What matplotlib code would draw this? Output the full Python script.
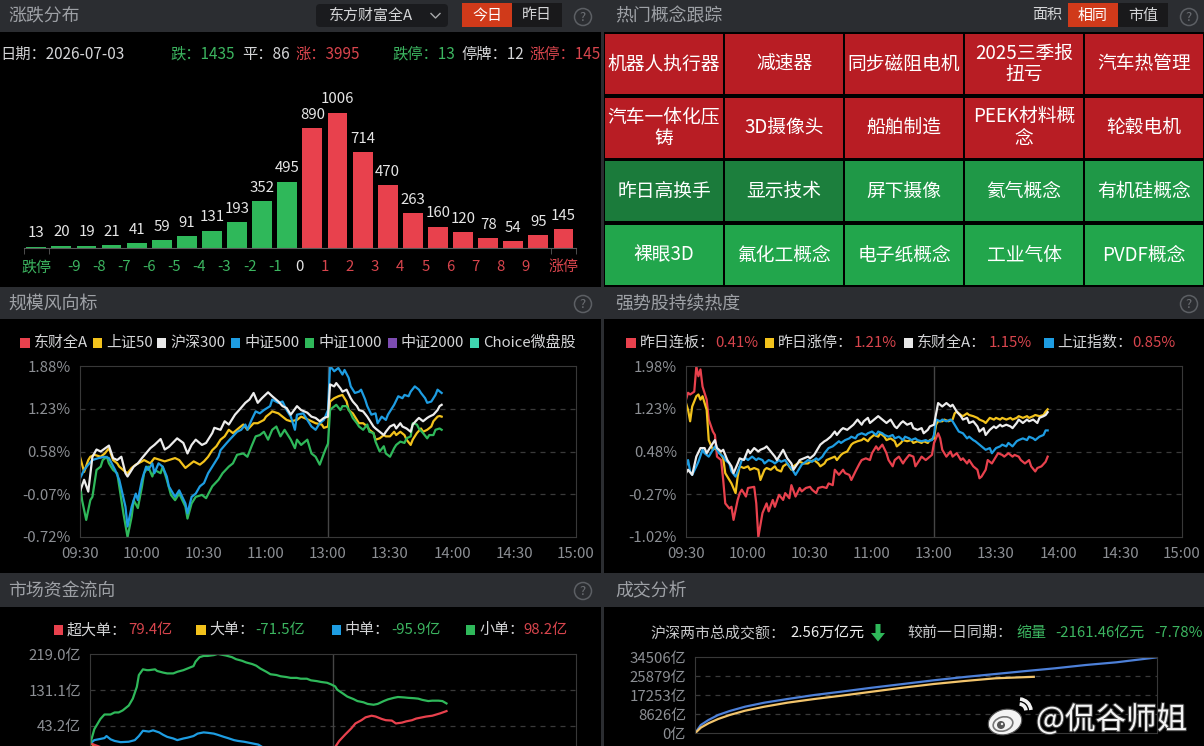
"""Market dashboard: limit-up/down distribution, hot concepts, index lines,
money flow and turnover, drawn on a 1204x746 canvas."""

import numpy as np
import matplotlib
matplotlib.use("Agg")
import matplotlib.pyplot as plt
from matplotlib.patches import Rectangle, FancyBboxPatch, Circle, Ellipse, Arc, Polygon
import matplotlib.patheffects as pe

plt.rcParams["font.family"] = ["Noto Sans CJK SC", "DejaVu Sans"]

# ---------------------------------------------------------------- data
DATE = "2026-07-03"
N_DOWN, N_FLAT, N_UP = 1435, 86, 3995
N_LIMIT_DOWN, N_SUSPEND, N_LIMIT_UP = 13, 12, 145

# distribution bars: 跌停, -10..-9, ..., 0..1, ..., 9..10, 涨停
DIST_COUNTS = [13, 20, 19, 21, 41, 59, 91, 131, 193, 352, 495,
               890, 1006, 714, 470, 263, 160, 120, 78, 54, 95, 145]
DIST_LABELS = ["跌停", "-9", "-8", "-7", "-6", "-5", "-4", "-3", "-2", "-1",
               "0", "1", "2", "3", "4", "5", "6", "7", "8", "9", "涨停"]

CONCEPTS = [["机器人执行器", "减速器", "同步磁阻电机", "2025三季报\n扭亏", "汽车热管理"],
            ["汽车一体化压\n铸", "3D摄像头", "船舶制造", "PEEK材料概\n念", "轮毂电机"],
            ["昨日高换手", "显示技术", "屏下摄像", "氦气概念", "有机硅概念"],
            ["裸眼3D", "氟化工概念", "电子纸概念", "工业气体", "PVDF概念"]]

TIME_TICKS = ["09:30", "10:00", "10:30", "11:00", "13:00", "13:30", "14:00", "14:30", "15:00"]

# 规模风向标 (minute index, % change)
HS300 = [(0, -0.03), (2, 0.15), (4, -0.03), (6, 0.50), (8, 0.61), (10, 0.58), (14, 0.67), (16, 0.48),
         (18, 0.45), (20, 0.50), (22, 0.25), (23, 0.20), (26, 0.35), (28, 0.40), (30, 0.48), (34, 0.63),
         (36, 0.68), (39, 0.77), (41, 0.61), (43, 0.65), (47, 0.78), (50, 0.71), (52, 0.55), (54, 0.68),
         (56, 0.76), (59, 0.68), (61, 0.71), (64, 0.86), (65, 0.94), (68, 0.91), (70, 1.04), (72, 0.99),
         (75, 1.14), (77, 1.21), (80, 1.32), (82, 1.37), (84, 1.47), (86, 1.32), (88, 1.39), (91, 1.48),
         (93, 1.42), (96, 1.34), (98, 1.27), (100, 1.24), (102, 1.14), (105, 1.27), (107, 1.21), (110, 1.17),
         (112, 1.11), (114, 1.09), (116, 1.04), (118, 1.09), (120, 1.11),
         (121, 1.60), (123, 1.57), (124, 1.62), (126, 1.54), (127, 1.49), (129, 1.52), (131, 1.39), (132, 1.34),
         (134, 1.27), (135, 1.21), (137, 1.19), (139, 1.11), (140, 1.06), (142, 0.96), (143, 0.93), (145, 0.88),
         (147, 0.83), (148, 0.88), (150, 0.96), (152, 0.99), (153, 0.93), (155, 1.01), (156, 0.96), (158, 0.93),
         (160, 0.88), (161, 0.99), (163, 1.06), (164, 1.09), (166, 1.04), (168, 1.09), (169, 1.11), (171, 1.14),
         (173, 1.21), (174, 1.27), (175, 1.29)]
CSI500 = [(0, 0.17), (2, 0.30), (4, 0.38), (6, 0.45), (9, 0.48), (12, 0.50), (14, 0.48), (17, 0.30),
          (19, 0.15), (22, -0.26), (23, -0.56), (25, -0.26), (27, -0.06), (28, -0.16), (30, 0.15), (32, 0.35),
          (33, 0.30), (35, 0.40), (36, 0.25), (38, 0.40), (40, 0.35), (42, 0.20), (43, 0.05), (46, -0.11),
          (48, -0.01), (51, -0.21), (52, -0.36), (54, -0.11), (56, -0.06), (58, 0.05), (60, 0.10), (62, 0.25),
          (64, 0.35), (65, 0.40), (67, 0.50), (68, 0.60), (71, 0.71), (73, 0.78), (76, 0.88), (78, 0.91),
          (80, 0.99), (81, 0.91), (83, 1.06), (85, 1.19), (87, 1.16), (89, 1.21), (92, 1.27), (93, 1.37),
          (96, 1.32), (98, 1.34), (100, 1.21), (102, 1.11), (104, 0.91), (105, 1.14), (108, 1.16), (110, 1.06),
          (112, 0.96), (114, 0.91), (116, 1.01), (118, 1.06), (120, 1.21),
          (121, 1.88), (123, 1.80), (125, 1.85), (127, 1.75), (128, 1.82), (130, 1.70), (131, 1.57), (133, 1.47),
          (135, 1.49), (136, 1.52), (138, 1.37), (139, 1.27), (141, 1.14), (143, 1.16), (144, 1.01), (146, 1.11),
          (148, 1.06), (149, 1.14), (151, 1.24), (152, 1.29), (154, 1.42), (156, 1.39), (157, 1.44), (159, 1.42),
          (160, 1.49), (162, 1.57), (164, 1.52), (165, 1.47), (167, 1.39), (168, 1.32), (170, 1.34), (172, 1.44),
          (173, 1.52), (175, 1.47)]
SSE50 = [(0, 0.50), (2, 0.27), (4, 0.45), (5, 0.50), (7, 0.53), (10, 0.50), (12, 0.55), (14, 0.63),
         (16, 0.45), (18, 0.40), (19, 0.35), (22, 0.27), (23, 0.25), (25, 0.33), (27, 0.38), (30, 0.43),
         (31, 0.45), (34, 0.40), (36, 0.48), (39, 0.45), (41, 0.43), (43, 0.45), (46, 0.48), (48, 0.45),
         (51, 0.33), (53, 0.38), (55, 0.43), (58, 0.38), (60, 0.43), (62, 0.50), (64, 0.60), (66, 0.66),
         (68, 0.76), (70, 0.81), (72, 0.91), (74, 0.86), (77, 0.94), (79, 0.99), (81, 0.91), (84, 1.01),
         (86, 1.01), (89, 1.06), (90, 1.11), (92, 1.16), (93, 1.19), (96, 1.16), (98, 1.11), (100, 1.06),
         (102, 1.04), (105, 1.06), (107, 1.11), (110, 1.07), (112, 1.04), (114, 1.01), (117, 0.99), (118, 0.94),
         (120, 0.96),
         (121, 1.34), (123, 1.39), (125, 1.42), (127, 1.44), (129, 1.34), (130, 1.21), (132, 1.16), (134, 1.06),
         (135, 1.01), (137, 1.01), (139, 0.96), (140, 0.91), (142, 0.86), (143, 0.76), (145, 0.78), (147, 0.83),
         (148, 0.81), (150, 0.81), (152, 0.88), (153, 0.83), (155, 0.88), (157, 0.83), (158, 0.76), (160, 0.68),
         (161, 0.76), (163, 0.86), (165, 0.93), (166, 0.88), (168, 0.91), (170, 0.96), (171, 1.04), (173, 1.11),
         (174, 1.12), (175, 1.11)]
CSI1000 = [(0, 0.10), (1, -0.16), (3, -0.46), (5, -0.16), (6, -0.11), (8, 0.30), (10, 0.35), (11, 0.45),
           (13, 0.50), (14, 0.40), (16, 0.30), (18, 0.25), (19, 0.05), (21, -0.36), (23, -0.72), (25, -0.41),
           (26, -0.16), (28, -0.28), (30, 0.05), (31, 0.25), (33, 0.35), (35, 0.20), (36, 0.30), (39, 0.25),
           (40, 0.35), (42, 0.15), (44, -0.08), (46, -0.16), (48, -0.06), (51, -0.26), (52, -0.44), (54, -0.21),
           (56, -0.11), (59, -0.08), (61, -0.13), (63, -0.01), (64, 0.05), (67, 0.15), (69, 0.25), (72, 0.35),
           (74, 0.40), (76, 0.53), (79, 0.55), (81, 0.50), (83, 0.66), (85, 0.81), (87, 0.83), (89, 0.88),
           (91, 0.76), (93, 0.91), (95, 0.96), (97, 0.81), (99, 0.91), (102, 0.76), (104, 0.63), (105, 0.76),
           (107, 0.68), (110, 0.76), (112, 0.55), (114, 0.50), (116, 0.38), (118, 0.55), (119, 0.63), (120, 0.70),
           (121, 1.21), (122, 1.24), (124, 1.29), (126, 1.21), (127, 1.27), (129, 1.27), (131, 1.16), (132, 1.09),
           (134, 1.01), (135, 0.96), (137, 0.91), (139, 0.99), (140, 0.88), (142, 0.86), (143, 0.73), (145, 0.58),
           (147, 0.66), (148, 0.55), (150, 0.50), (152, 0.63), (153, 0.68), (155, 0.73), (157, 0.71), (158, 0.78),
           (160, 0.81), (161, 1.01), (163, 0.99), (164, 0.93), (166, 0.86), (168, 0.78), (169, 0.83), (171, 0.83),
           (172, 0.91), (174, 0.93), (175, 0.91)]
SCALE_NAMES = ["东财全A", "上证50", "沪深300", "中证500", "中证1000", "中证2000", "Choice微盘股"]

# 强势股持续热度
LIANBAN = [(0, 1.39), (1, 1.51), (2, 1.48), (4, 1.53), (5, 1.97), (6, 1.80), (7, 1.92), (8, 1.62),
           (10, 1.39), (11, 1.04), (13, 0.83), (14, 0.77), (15, 0.39), (17, 0.33), (18, -0.02), (19, -0.43),
           (21, -0.52), (22, -0.49), (23, -0.72), (25, -0.37), (26, -0.25), (27, -0.19), (29, -0.31), (30, -0.16),
           (33, -0.14), (34, -0.43), (35, -1.02), (37, -0.60), (39, -0.43), (40, -0.57), (42, -0.37), (43, -0.49),
           (45, -0.28), (47, -0.37), (48, -0.25), (50, -0.34), (51, -0.11), (53, -0.31), (55, -0.16), (56, -0.22),
           (58, -0.16), (60, -0.14), (61, -0.19), (63, -0.25), (64, -0.16), (66, -0.14), (68, -0.16), (69, -0.08),
           (71, -0.11), (72, 0.16), (74, 0.07), (76, 0.16), (77, 0.10), (79, 0.07), (80, -0.02), (82, 0.13),
           (84, 0.27), (85, 0.33), (87, 0.36), (89, 0.33), (90, 0.45), (92, 0.57), (93, 0.51), (95, 0.60),
           (97, 0.45), (98, 0.33), (100, 0.22), (101, 0.33), (103, 0.39), (105, 0.27), (106, 0.33), (108, 0.42),
           (110, 0.39), (111, 0.22), (113, 0.33), (114, 0.39), (116, 0.33), (118, 0.39), (119, 0.42), (120, 0.63),
           (122, 0.80), (123, 0.71), (124, 0.51), (126, 0.39), (128, 0.48), (129, 0.39), (131, 0.45), (133, 0.33),
           (134, 0.36), (136, 0.27), (137, 0.33), (139, 0.22), (141, 0.16), (142, 0.01), (143, 0.04), (145, 0.16),
           (146, 0.33), (148, 0.27), (150, 0.39), (151, 0.45), (153, 0.42), (154, 0.39), (156, 0.45), (158, 0.39),
           (159, 0.42), (161, 0.39), (162, 0.33), (164, 0.27), (166, 0.33), (167, 0.22), (169, 0.13), (170, 0.19),
           (172, 0.22), (174, 0.30), (175, 0.39)]
ZHANGTING = [(0, 1.33), (1, 1.21), (2, 1.01), (3, 1.27), (5, 1.45), (6, 1.48), (7, 1.39), (8, 1.45),
             (10, 1.21), (11, 0.68), (13, 0.51), (14, 0.54), (16, 0.48), (18, 0.36), (19, 0.10), (21, -0.02),
             (22, -0.08), (24, -0.25), (25, 0.04), (26, 0.22), (28, 0.19), (30, 0.22), (31, 0.16), (33, 0.19),
             (35, 0.16), (36, -0.02), (38, 0.16), (39, 0.19), (41, 0.16), (43, 0.22), (44, 0.16), (46, 0.13),
             (47, 0.22), (49, 0.27), (51, 0.16), (52, 0.22), (54, 0.27), (55, 0.30), (57, 0.27), (59, 0.27),
             (60, 0.30), (62, 0.33), (64, 0.27), (65, 0.22), (67, 0.27), (68, 0.33), (70, 0.36), (72, 0.39),
             (73, 0.33), (75, 0.42), (76, 0.45), (78, 0.48), (80, 0.60), (81, 0.63), (83, 0.66), (85, 0.68),
             (86, 0.71), (88, 0.66), (89, 0.71), (91, 0.77), (93, 0.74), (94, 0.80), (96, 0.74), (97, 0.68),
             (99, 0.71), (101, 0.66), (102, 0.57), (104, 0.63), (105, 0.68), (107, 0.66), (109, 0.68), (110, 0.63),
             (112, 0.66), (114, 0.63), (115, 0.66), (117, 0.63), (118, 0.68), (120, 0.71),
             (121, 0.95), (122, 1.01), (124, 1.01), (125, 1.04), (127, 1.01), (129, 1.04), (130, 1.15), (131, 1.18),
             (133, 1.12), (134, 1.10), (136, 1.15), (137, 1.12), (139, 1.10), (141, 1.07), (142, 1.04), (144, 1.01),
             (145, 0.98), (147, 1.07), (149, 1.04), (150, 1.07), (152, 1.04), (153, 1.07), (155, 1.04), (157, 1.07),
             (158, 1.04), (160, 1.07), (161, 1.10), (163, 1.07), (165, 1.10), (166, 1.07), (168, 1.10), (169, 1.12),
             (171, 1.10), (173, 1.12), (174, 1.18), (175, 1.22)]
QUAN_A = [(0, 0.10), (1, 0.16), (3, 0.07), (5, 0.39), (7, 0.54), (9, 0.54), (10, 0.45), (12, 0.57),
          (14, 0.68), (15, 0.54), (17, 0.48), (18, 0.51), (20, 0.33), (22, 0.22), (23, 0.10), (25, 0.27),
          (26, 0.36), (28, 0.33), (30, 0.51), (31, 0.45), (33, 0.54), (35, 0.48), (36, 0.51), (38, 0.54),
          (39, 0.57), (41, 0.48), (43, 0.39), (44, 0.33), (46, 0.45), (47, 0.51), (49, 0.36), (51, 0.27),
          (52, 0.16), (54, 0.27), (55, 0.33), (57, 0.36), (59, 0.39), (60, 0.36), (62, 0.42), (64, 0.54),
          (65, 0.60), (67, 0.66), (68, 0.68), (70, 0.74), (72, 0.83), (73, 0.77), (75, 0.86), (76, 0.89),
          (78, 0.86), (80, 0.92), (81, 0.95), (83, 1.04), (85, 0.95), (86, 1.01), (88, 1.07), (89, 0.98),
          (91, 1.04), (93, 1.10), (94, 1.07), (96, 1.01), (97, 0.98), (99, 1.04), (101, 0.92), (102, 0.89),
          (104, 0.98), (105, 1.01), (107, 0.95), (109, 0.98), (110, 0.89), (112, 0.86), (114, 0.89), (115, 0.80),
          (117, 0.86), (118, 0.92), (120, 0.95),
          (122, 1.33), (123, 1.30), (124, 1.27), (126, 1.33), (128, 1.27), (129, 1.30), (131, 1.18), (133, 1.10),
          (134, 1.04), (136, 1.07), (137, 0.98), (139, 1.01), (141, 0.92), (142, 0.83), (144, 0.89), (145, 0.77),
          (147, 0.86), (149, 0.92), (150, 0.89), (152, 0.95), (153, 0.92), (155, 0.95), (157, 0.92), (158, 0.89),
          (160, 0.98), (161, 1.04), (163, 0.98), (165, 1.04), (166, 1.01), (168, 1.04), (170, 0.98), (171, 1.07),
          (173, 1.10), (174, 1.12), (175, 1.17)]
SH_INDEX = [(0, 0.22), (1, 0.33), (2, 0.13), (3, 0.07), (5, 0.22), (6, 0.30), (8, 0.51), (9, 0.45),
            (11, 0.39), (13, 0.51), (14, 0.57), (16, 0.45), (18, 0.39), (19, 0.33), (21, 0.27), (22, 0.13),
            (24, 0.04), (26, 0.22), (27, 0.33), (29, 0.36), (30, 0.33), (32, 0.39), (34, 0.33), (35, 0.36),
            (37, 0.33), (38, 0.27), (40, 0.33), (42, 0.30), (43, 0.27), (45, 0.33), (46, 0.30), (48, 0.33),
            (50, 0.22), (51, 0.19), (53, 0.07), (55, 0.19), (56, 0.25), (58, 0.30), (59, 0.33), (61, 0.30),
            (63, 0.36), (64, 0.33), (66, 0.39), (67, 0.45), (69, 0.54), (71, 0.57), (72, 0.60), (74, 0.66),
            (75, 0.63), (77, 0.68), (79, 0.71), (80, 0.74), (82, 0.71), (83, 0.77), (85, 0.80), (87, 0.77),
            (88, 0.80), (90, 0.83), (92, 0.77), (93, 0.83), (95, 0.80), (96, 0.77), (98, 0.74), (100, 0.77),
            (101, 0.71), (103, 0.74), (105, 0.68), (106, 0.74), (108, 0.71), (109, 0.68), (111, 0.71), (112, 0.68),
            (114, 0.66), (116, 0.68), (117, 0.66), (119, 0.68), (120, 0.77),
            (121, 1.04), (123, 1.01), (124, 1.04), (126, 1.01), (128, 1.04), (129, 1.01), (131, 0.89), (132, 0.83),
            (134, 0.80), (136, 0.71), (137, 0.74), (139, 0.68), (140, 0.66), (142, 0.60), (144, 0.54), (145, 0.51),
            (147, 0.54), (148, 0.45), (150, 0.54), (152, 0.57), (153, 0.60), (155, 0.57), (156, 0.63), (158, 0.57),
            (160, 0.66), (161, 0.68), (163, 0.71), (165, 0.68), (166, 0.74), (168, 0.71), (169, 0.68), (171, 0.74),
            (173, 0.77), (174, 0.85), (175, 0.85)]
STRONG_NAMES = ["昨日连板", "昨日涨停", "东财全A", "上证指数"]
STRONG_LAST = [0.41, 1.21, 1.15, 0.85]

# 市场资金流向 (亿)
FLOW_SUPER = [(0, 0), (5, -9), (10, -22), (20, -40), (30, -58), (40, -66), (50, -72), (60, -80), (70, -76),
              (80, -68), (90, -60), (100, -52), (110, -40), (118, -25), (121, -9), (123, 6), (126, 22), (129, 37),
              (131, 49), (134, 57), (136, 64), (139, 68), (141, 66), (144, 60), (146, 57), (149, 56), (151, 49),
              (154, 51), (156, 54), (159, 57), (161, 61), (164, 64), (166, 66), (169, 68), (171, 71), (173, 74),
              (176, 79.4)]
FLOW_LARGE = [(0, 0), (3, -8), (10, -20), (20, -35), (30, -50), (40, -55), (50, -60), (60, -65), (70, -62),
              (80, -58), (90, -55), (100, -57), (110, -60), (120, -62), (130, -70), (140, -75), (150, -72),
              (160, -70), (170, -72), (176, -71.5)]
FLOW_MID = [(0, 0), (2, 8), (7, 13), (8, 18), (10, 10), (12, 6), (15, 3), (19, 4), (22, 8), (24, 18), (26, 31),
            (29, 29), (31, 32), (34, 27), (36, 21), (38, 16), (41, 12), (43, 8), (46, 12), (48, 14), (51, 18),
            (53, 24), (56, 27), (58, 26), (61, 24), (63, 21), (66, 16), (68, 13), (71, 8), (73, 6), (76, 4),
            (78, 2), (80, 0), (83, -3), (85, -9), (90, -20), (100, -38), (110, -50), (120, -58), (130, -75),
            (140, -85), (150, -90), (160, -92), (170, -94), (176, -95.9)]
FLOW_SMALL = [(0, 0), (2, 35), (5, 60), (7, 71), (10, 71), (12, 76), (14, 76), (16, 81), (18, 89), (19, 93),
              (21, 110), (23, 139), (24, 168), (26, 182), (28, 180), (29, 180), (32, 182), (33, 178), (36, 174),
              (38, 172), (41, 172), (43, 176), (46, 180), (48, 184), (51, 190), (52, 201), (54, 212), (56, 215),
              (58, 215), (61, 217), (63, 220), (65, 218), (67, 216), (70, 212), (72, 207), (75, 203), (77, 199),
              (80, 195), (82, 191), (84, 184), (87, 176), (89, 170), (92, 168), (94, 165), (97, 163), (99, 161),
              (102, 161), (104, 159), (107, 159), (109, 155), (112, 153), (114, 151), (117, 149), (119, 145),
              (121, 140), (122, 132), (125, 122), (127, 115), (130, 109), (132, 104), (135, 101), (137, 97),
              (140, 95), (142, 97), (145, 104), (147, 108), (150, 112), (152, 114), (155, 113), (157, 112),
              (160, 111), (162, 110), (164, 107), (167, 104), (169, 105), (172, 105), (174, 104), (176, 98.2)]
FLOW_NAMES = ["超大单", "大单", "中单", "小单"]
FLOW_LAST = [79.4, -71.5, -95.9, 98.2]
FLOW_TICKS = [219.0, 131.1, 43.2, -44.7]   # the axis continues below the visible frame
FLOW_YMIN = -132.6

# 成交分析 (亿)
TURN_PREV = [(0, 0), (3, 3770), (7, 6040), (12, 8310), (18, 10120), (26, 12080), (36, 13900), (48, 15570),
             (62, 17390), (76, 18900), (92, 20710), (108, 22380), (124, 24060), (140, 25560), (156, 26920),
             (172, 28280), (187, 29510), (203, 31010), (219, 32240), (233, 33730), (240, 34506)]
TURN_TODAY = [(0, 0), (3, 2550), (7, 4540), (12, 6490), (18, 8310), (26, 10260), (36, 12080), (48, 13900),
              (62, 15570), (76, 17070), (92, 18900), (108, 20710), (124, 22380), (140, 23740), (156, 24970),
              (176, 25650)]
TURN_TICKS = [0, 8626, 17253, 25879, 34506]
TOTAL_WAN_YI = 2.56
DIFF_YI, DIFF_PCT = -2161.46, -7.78

# ---------------------------------------------------------------- style
W, H = 1204, 746
HEAD = "#2b2d31"
TITLE_C = "#9ea1a6"
TXT = "#d4d5d7"
AXC = "#8c8f94"
GRID = "#3a3a3a"
RED, GREEN = "#e8414d", "#2fb85a"
RED_T, GREEN_T = "#d8454d", "#3cb560"
FS = 10.8

fig = plt.figure(figsize=(W / 100, H / 100), dpi=100)
fig.patch.set_facecolor(HEAD)

bg = fig.add_axes([0, 0, 1, 1])
bg.set_xlim(0, W)
bg.set_ylim(H, 0)
bg.axis("off")


def px_axes(x0, y0, x1, y1, **kw):
    ax = fig.add_axes([x0 / W, 1 - y1 / H, (x1 - x0) / W, (y1 - y0) / H], **kw)
    ax.set_facecolor("none")
    return ax


def help_icon(x, y):
    bg.add_patch(Circle((x, y), 8.5, fill=False, ec="#5c5f64", lw=1.1))
    bg.text(x, y + 0.5, "?", color="#6c6f74", fontsize=9.5, ha="center", va="center")


def legend_sq(x, y, color):
    bg.add_patch(Rectangle((x - 13.5, y - 4.8), 9.5, 9.5, color=color, lw=0))


# panel content areas (black) on the gray frame
for x0, y0, x1, y1 in [(0, 32, 601, 287), (604, 32, W, 287), (0, 319, 601, 573),
                       (604, 319, W, 573), (0, 607, 601, H), (604, 607, W, H)]:
    bg.add_patch(Rectangle((x0, y0), x1 - x0, y1 - y0, color="black", lw=0))

# panel titles
for x, y, t in [(8, 16, "涨跌分布"), (615, 16, "热门概念跟踪"), (8, 304, "规模风向标"),
                (615, 304, "强势股持续热度"), (8, 591, "市场资金流向"), (615, 591, "成交分析")]:
    bg.text(x, y, t, color=TITLE_C, fontsize=12.9, va="center")
for x, y in [(583, 17), (1189, 17), (583, 304), (1189, 304), (583, 591)]:
    help_icon(x, y)

# header controls
bg.add_patch(FancyBboxPatch((316, 4), 132, 23, boxstyle="round,pad=0,rounding_size=4",
                            fc="#1a1b1e", ec="none"))
bg.text(329, 16, "东方财富全A", color=TXT, fontsize=FS, va="center")
bg.plot([431, 435.5, 440], [13.5, 18, 13.5], color="#a8a9ab", lw=1)
bg.add_patch(Rectangle((462, 3), 50, 24, color="#d03a1a", lw=0))
bg.add_patch(Rectangle((512, 3), 50, 24, color="#19191b", lw=0))
bg.text(487, 15.5, "今日", color="white", fontsize=FS, ha="center", va="center")
bg.text(537, 15.5, "昨日", color=TXT, fontsize=FS, ha="center", va="center")
bg.text(1047, 15.5, "面积", color=TXT, fontsize=FS, ha="center", va="center")
bg.add_patch(Rectangle((1068, 3), 50, 24, color="#d03a1a", lw=0))
bg.add_patch(Rectangle((1118, 3), 50, 24, color="#19191b", lw=0))
bg.text(1093, 15.5, "相同", color="white", fontsize=FS, ha="center", va="center")
bg.text(1143, 15.5, "市值", color=TXT, fontsize=FS, ha="center", va="center")

# ---------------------------------------------------------------- 涨跌分布
stats = [(0, f"日期：{DATE}", TXT), (170, f"跌：{N_DOWN}", GREEN_T), (242, f"平：{N_FLAT}", TXT),
         (296, f"涨：{N_UP}", RED_T), (392, f"跌停：{N_LIMIT_DOWN}", GREEN_T),
         (461, f"停牌：{N_SUSPEND}", TXT), (530, f"涨停：{N_LIMIT_UP}", RED_T)]
for x, t, c in stats:
    bg.text(x, 54, t, color=c, fontsize=11, va="center")

axb = px_axes(23.7, 46.1, 576, 248.3)
n = len(DIST_COUNTS)
bar_colors = [GREEN if i < n // 2 else RED for i in range(n)]
axb.bar(np.arange(n), DIST_COUNTS, width=0.79, color=bar_colors)
for i, v in enumerate(DIST_COUNTS):
    axb.annotate(str(v), (i, v), xytext=(0, 4.5), textcoords="offset points",
                 ha="center", va="bottom", color="#e6e6e6", fontsize=10.8)
axb.set_xlim(-0.5, n - 0.5)
axb.set_ylim(0, 1500)
for s in ["top", "right", "left"]:
    axb.spines[s].set_visible(False)
axb.spines["bottom"].set_color("#5a5a5a")
axb.set_yticks([])
label_pos = [0] + [1.5 + k for k in range(len(DIST_LABELS) - 2)] + [n - 1]
axb.set_xticks(label_pos, DIST_LABELS)
axb.set_xticks(np.arange(-0.5, n, 1), minor=True)
axb.tick_params(axis="x", which="major", length=0, pad=8.5, labelsize=10.8)
axb.tick_params(axis="x", which="minor", length=4, color="#5a5a5a")
for k, lab in enumerate(axb.get_xticklabels()):
    lab.set_color(GREEN_T if k < 10 else ("#e6e6e6" if k == 10 else RED_T))

# ---------------------------------------------------------------- 热门概念跟踪
cell_colors = [["#b81d24"] * 5, ["#b81d24"] * 5,
               ["#1b7b3b", "#1c7f3d", "#1f9847", "#1f9847", "#1f9847"],
               ["#22a64c"] * 5]
axt = px_axes(604, 32, W, 287)
axt.set_xlim(0, 5)
axt.set_ylim(4, 0)
axt.axis("off")
gx, gy = 0.011, 0.03
for r, row in enumerate(CONCEPTS):
    for c, name in enumerate(row):
        axt.add_patch(Rectangle((c + gx, r + gy), 1 - 2 * gx, 1 - 2 * gy,
                                color=cell_colors[r][c], lw=0))
        axt.text(c + 0.5, r + 0.5, name, color="white", fontsize=13.5,
                 ha="center", va="center", linespacing=1.05)


# ---------------------------------------------------------------- line panels
def line_panel(box, series, yticks, ylabels, ylim=None, mid_line=True, xlabels=True):
    ax = px_axes(*box)
    for pts, color in series:
        t, v = zip(*pts)
        ax.plot(t, v, color=color, lw=1.6, solid_joinstyle="round")
    ax.set_xlim(0, 240)
    lo, hi = ylim if ylim else (min(yticks), max(yticks))
    ax.set_ylim(lo, hi)
    for yv in yticks:
        if lo < yv < hi:
            ax.axhline(yv, color=GRID, lw=0.9, ls=(0, (4, 4)), zorder=0)
    if mid_line:
        ax.axvline(120, color="#454545", lw=1, zorder=0)
    for s in ax.spines.values():
        s.set_color("#383838")
    ax.set_yticks(yticks, ylabels)
    if xlabels:
        ax.set_xticks(np.arange(0, 241, 30), TIME_TICKS)
    else:
        ax.set_xticks([])
    ax.tick_params(length=0, colors=AXC, labelsize=FS)
    ax.tick_params(axis="y", pad=6.5)
    ax.tick_params(axis="x", pad=7.5)
    return ax


scale_colors = ["#e8414d", "#f2c21c", "#e8e8e8", "#1e9de2", "#2fb85a", "#7d4cb2", "#3fd6b0"]
for x, name, c in zip([33.7, 106, 170, 244, 318, 401, 483], SCALE_NAMES, scale_colors):
    legend_sq(x, 343, c)
    bg.text(x, 343, name, color=TXT, fontsize=FS, va="center")

line_panel((80, 366, 576, 537),
           [(SSE50, "#f2c21c"), (CSI1000, "#2fb85a"), (CSI500, "#1e9de2"), (HS300, "#ececec")],
           [1.88, 1.23, 0.58, -0.07, -0.72], ["1.88%", "1.23%", "0.58%", "-0.07%", "-0.72%"])

strong_colors = ["#e8414d", "#f2c21c", "#e8e8e8", "#1e9de2"]
for x, xv, name, val, c in zip([639.6, 778, 917, 1057.5], [715, 853.5, 988.6, 1132],
                               STRONG_NAMES, STRONG_LAST, strong_colors):
    legend_sq(x, 343, c)
    bg.text(x, 343, name + "：", color=TXT, fontsize=FS, va="center")
    bg.text(xv, 343, f"{val:.2f}%", color=RED_T, fontsize=FS, va="center")

line_panel((686, 366, 1182, 537),
           [(LIANBAN, "#e8414d"), (ZHANGTING, "#f2c21c"), (SH_INDEX, "#1e9de2"), (QUAN_A, "#ececec")],
           [1.98, 1.23, 0.48, -0.27, -1.02], ["1.98%", "1.23%", "0.48%", "-0.27%", "-1.02%"])

# money flow
flow_colors = ["#e8414d", "#f2c21c", "#1e9de2", "#2fb85a"]
for x, xv, name, val, c in zip([67, 209.7, 345, 479], [128, 255.6, 391, 523.5],
                               FLOW_NAMES, FLOW_LAST, flow_colors):
    legend_sq(x, 630, c)
    bg.text(x, 630, name + "：", color=TXT, fontsize=FS, va="center")
    bg.text(xv, 630, f"{val:.1f}亿", color=RED_T if val > 0 else GREEN_T, fontsize=FS, va="center")

line_panel((90.3, 654.3, 576, 797.3),
           [(FLOW_LARGE, "#f2c21c"), (FLOW_MID, "#1e9de2"), (FLOW_SUPER, "#e8414d"), (FLOW_SMALL, "#2fb85a")],
           FLOW_TICKS[:3], [f"{v:.1f}亿" for v in FLOW_TICKS[:3]],
           ylim=(FLOW_YMIN, FLOW_TICKS[0]), xlabels=False)

# turnover
bg.text(650, 633, "沪深两市总成交额：", color="#c8c9cb", fontsize=FS, va="center")
bg.text(790, 633, f"{TOTAL_WAN_YI:.2f}万亿元", color="#eeeeee", fontsize=FS, va="center")
bg.add_patch(Polygon([[875.5, 624], [880.5, 624], [880.5, 633], [885, 633], [878, 641.5],
                      [871, 633], [875.5, 633]], closed=True, color="#2fb85a", lw=0))
bg.text(907.5, 633, "较前一日同期：", color="#c8c9cb", fontsize=FS, va="center")
bg.text(1016.5, 633, "缩量", color=GREEN_T, fontsize=FS, va="center")
bg.text(1055.6, 633, f"{DIFF_YI:.2f}亿元", color=GREEN_T, fontsize=FS, va="center")
bg.text(1154, 633, f"{DIFF_PCT:.2f}%", color=GREEN_T, fontsize=FS, va="center")

line_panel((695, 657.3, 1157, 733.3),
           [(TURN_PREV, "#4d80d8"), (TURN_TODAY, "#f2c46c")],
           TURN_TICKS, [f"{v}亿" for v in TURN_TICKS], mid_line=False, xlabels=False)

# watermark
ov = fig.add_axes([0, 0, 1, 1], zorder=10)
ov.set_xlim(0, W)
ov.set_ylim(H, 0)
ov.axis("off")
ov.add_patch(Ellipse((1005, 722), 34, 25, angle=-15, fc="#f4f4f4", ec="#555", lw=0.8))
ov.add_patch(Ellipse((1003, 724), 20, 14, angle=-15, fc="none", ec="#777", lw=1.2))
ov.add_patch(Circle((1001, 725), 4, fc="#555", ec="none"))
ov.add_patch(Circle((1002, 724), 1.2, fc="#f4f4f4", ec="none"))
for rr in [7, 12]:
    ov.add_patch(Arc((1019, 711), 2 * rr, 2 * rr, theta1=275, theta2=355, color="#f4f4f4", lw=2.6))
ov.text(1036, 720, "@侃谷师姐", color="#f4f4f4", fontsize=22, va="center",
        path_effects=[pe.withStroke(linewidth=1.5, foreground="#444")])

fig.savefig("out.png", dpi=100, facecolor=fig.get_facecolor())
